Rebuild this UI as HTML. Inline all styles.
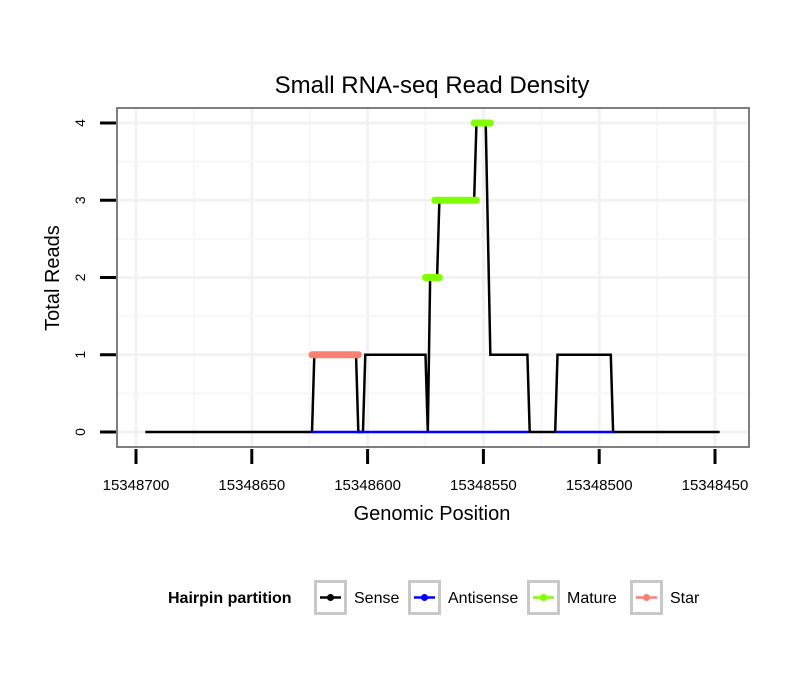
<!DOCTYPE html>
<html><head><meta charset="utf-8"><style>
body{margin:0;background:#fff;font-family:"Liberation Sans",sans-serif}
svg text{font-family:"Liberation Sans",sans-serif}
</style></head><body>
<svg id="chart" width="810" height="690" xmlns="http://www.w3.org/2000/svg">
<rect width="810" height="690" fill="#fff"/>
<text x="432" y="93" font-size="24" text-anchor="middle">Small RNA-seq Read Density</text>
<g id="grid"></g>
<g id="series"></g>
<rect x="117" y="108" width="632" height="339" fill="none" stroke="#7f7f7f" stroke-width="2"/>
<g id="axes"></g>
<text x="432" y="520" font-size="20" text-anchor="middle">Genomic Position</text>
<text transform="translate(59,278) rotate(-90)" font-size="20" text-anchor="middle">Total Reads</text>
<g>
<text x="168" y="603" font-size="16" font-weight="bold">Hairpin partition</text>
<g id="legend"></g>
</g>
</svg>
<script>
const xTicks=[15348700,15348650,15348600,15348550,15348500,15348450];
const yTicks=[0,1,2,3,4];
const sensePos=[15348696,15348624,15348623,15348605,15348604,15348602,15348601,15348575,15348574,15348573,15348570,15348569,15348554,15348553,15348549,15348547,15348531,15348530,15348519,15348518,15348495,15348494,15348448];
const senseVal=[0,0,1,1,0,0,1,1,0,2,2,3,3,4,4,1,1,0,0,1,1,0,0];
const antiStart=[15348624,15348518];
const antiEnd=[15348531,15348494];
const antiVal=[0,0];
const matureStart=[15348575,15348571,15348554];
const matureEnd=[15348569,15348553,15348547];
const matureVal=[2,3,4];
const starStart=[15348624];
const starEnd=[15348604];
const starVal=[1];
const legendLabels=["Sense","Antisense","Mature","Star"];
const legendColors=["#000","#0000ff","#7fff00","#fa8072"];

const NS="http://www.w3.org/2000/svg";
const X=p=>136+(15348700-p)*2.316;
const Y=v=>432-v*77.25;
function mk(tag,attrs,parent){const e=document.createElementNS(NS,tag);for(const k in attrs)e.setAttribute(k,attrs[k]);parent.appendChild(e);return e;}
const grid=document.getElementById('grid'),series=document.getElementById('series'),axes=document.getElementById('axes'),legend=document.getElementById('legend');
for(let i=0;i<xTicks.length;i++){
 const x=X(xTicks[i]);
 const g=mk('line',{x1:x,x2:x,y1:109,y2:446,stroke:'#f2f2f2','stroke-width':3},grid);
 
 
 if(i<xTicks.length-1){const xm=X(xTicks[i]-25);
 const m=mk('line',{x1:xm,x2:xm,y1:109,y2:446,stroke:'#f7f7f7','stroke-width':2},grid);
 
 }
}
for(let i=0;i<yTicks.length;i++){
 const y=Y(yTicks[i]);
 const g=mk('line',{x1:118,x2:748,y1:y,y2:y,stroke:'#f2f2f2','stroke-width':3},grid);
 
 
 if(i<yTicks.length-1){const ym=Y(yTicks[i]+0.5);
 const m=mk('line',{x1:118,x2:748,y1:ym,y2:ym,stroke:'#f7f7f7','stroke-width':2},grid);
 
 }
}
xTicks.forEach(t=>{const x=X(t);
 const l=mk('line',{x1:x,x2:x,y1:449,y2:464,stroke:'#000','stroke-width':3},axes);
 
 
 const tx=mk('text',{x:x,y:490,'font-size':15,'text-anchor':'middle'},axes);tx.textContent=t;
 
 
});
yTicks.forEach(t=>{const y=Y(t);
 const l=mk('line',{x1:100,x2:116,y1:y,y2:y,stroke:'#000','stroke-width':3},axes);
 
 
 const tx=mk('text',{transform:`translate(85,${y}) rotate(-90)`,'font-size':14,'text-anchor':'middle'},axes);tx.textContent=t;
 
 
});
const pts=sensePos.map((p,i)=>X(p)+','+Y(senseVal[i])).join(' ');
const s=mk('polyline',{points:pts,fill:'none',stroke:'#000','stroke-width':2.5},series);


function segs(st,en,va,color,w,name){
 st.forEach((p,i)=>{const e=mk('line',{x1:X(p),x2:X(en[i]),y1:Y(va[i]),y2:Y(va[i]),stroke:color,'stroke-width':w,'stroke-linecap':'round'},series);
 
 });
}
segs(antiStart,antiEnd,antiVal,'#0000ff',2.5,'antisense-segment');
segs(matureStart,matureEnd,matureVal,'#7fff00',7,'mature-segment');
segs(starStart,starEnd,starVal,'#fa8072',7,'star-segment');
const bx=[314,408,527,630];
legendLabels.forEach((lab,i)=>{
 const g=mk('g',{},legend);
 
 
 mk('rect',{x:bx[i]+1.5,y:581.5,width:30,height:32,fill:'#fff',stroke:'#c8c8c8','stroke-width':3},g);
 mk('line',{x1:bx[i]+6,x2:bx[i]+27,y1:597.5,y2:597.5,stroke:legendColors[i],'stroke-width':2.5},g);
 mk('circle',{cx:bx[i]+16.5,cy:597.5,r:3.5,fill:legendColors[i]},g);
 const t=mk('text',{x:bx[i]+40,y:603,'font-size':16},g);t.textContent=lab;
});
</script>
</body></html>
